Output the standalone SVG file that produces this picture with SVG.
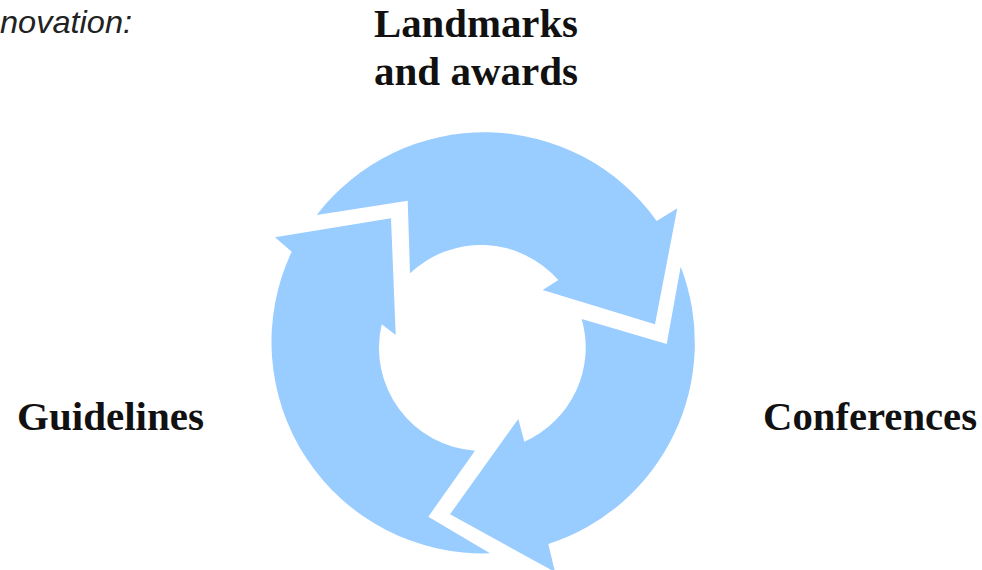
<svg xmlns="http://www.w3.org/2000/svg" width="982" height="570" viewBox="0 0 982 570">
  <style>
    .arrow { fill: #99CCFF; stroke: none; }
    .label { font-family: "Liberation Serif", "Times New Roman", serif; font-weight: bold; font-size: 40px; fill: #111111; }
    .caption { font-family: "Liberation Sans", Arial, sans-serif; font-style: italic; font-size: 32px; fill: #222222; }
  </style>
  <rect x="0" y="0" width="982" height="570" fill="#FFFFFF"/>
  <text class="caption" x="0" y="33" textLength="132" lengthAdjust="spacingAndGlyphs">novation:</text>
  <g id="connectors">
    <path id="arrow-top" class="arrow" d="M316.7,215 A211.5,211.5 0 0 1 656.7,221 L677.3,208.3 L655,324.3 L542.7,290 L558.3,280 A103,103 0 0 0 410,273.3 L407.7,200.7 Z"/>
    <path id="arrow-right" class="arrow" d="M680.7,266.7 A211.5,211.5 0 0 1 548.3,544 L555,572 L450,514.3 L518.3,419 L524.3,441.7 A103,103 0 0 0 581.7,319 L666.7,344 Z"/>
    <path id="arrow-left" class="arrow" d="M490,553.3 A211.5,211.5 0 0 1 291.7,251.7 L275,237.3 L391,218.3 L395.7,335 L381.7,324.3 A103,103 0 0 0 475,450.7 L428.3,516.7 Z"/>
  </g>
  <g id="node-landmarks">
    <text class="label" x="374" y="37" textLength="204" lengthAdjust="spacingAndGlyphs">Landmarks</text>
    <text class="label" x="374" y="85" textLength="204" lengthAdjust="spacingAndGlyphs">and awards</text>
  </g>
  <g id="node-guidelines">
    <text class="label" x="17" y="430" textLength="187" lengthAdjust="spacingAndGlyphs">Guidelines</text>
  </g>
  <g id="node-conferences">
    <text class="label" x="763" y="430" textLength="214" lengthAdjust="spacingAndGlyphs">Conferences</text>
  </g>
</svg>
